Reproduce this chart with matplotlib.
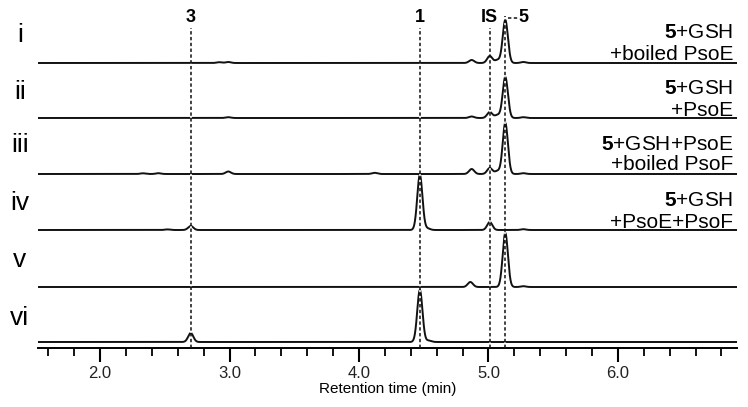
import numpy as np
import matplotlib
matplotlib.use('Agg')
import matplotlib.pyplot as plt

plt.rcParams['font.family'] = 'Liberation Sans'
plt.rcParams['mathtext.fontset'] = 'custom'
plt.rcParams['mathtext.rm'] = 'Liberation Sans'
plt.rcParams['mathtext.bf'] = 'Liberation Sans:bold'

# peak tables: (retention time in min, height in px)
peaks_i = [(2.92, 0.8), (2.99, 1.0), (4.87, 3), (5.01, 7), (5.07, 3), (5.13, 43), (5.27, 1)]
peaks_ii = [(2.99, 0.8), (4.87, 1.5), (5.01, 6), (5.07, 3), (5.13, 41), (5.27, 0.8)]
peaks_iii = [(2.33, 0.7), (2.45, 0.8), (2.99, 2.5), (4.12, 1.2), (4.87, 5), (5.01, 6), (5.07, 3), (5.13, 51), (5.27, 0.8)]
peaks_iv = [(2.52, 0.6), (2.70, 4), (4.47, 55), (4.53, 1.5), (5.01, 8), (5.27, 0.8)]
peaks_v = [(4.86, 5), (5.13, 54), (5.27, 0.8)]
peaks_vi = [(2.70, 9), (4.47, 52), (4.54, 1.5)]

traces = [peaks_i, peaks_ii, peaks_iii, peaks_iv, peaks_v, peaks_vi]
baselines = [285, 230, 174, 118, 61, 6]
row_names = ['i', 'ii', 'iii', 'iv', 'v', 'vi']
row_label_y = [313, 256, 203, 145, 88, 30]

conditions = [
    ['$\\mathbf{5}$+GSH', '+boiled PsoE'],
    ['$\\mathbf{5}$+GSH', '+PsoE'],
    ['$\\mathbf{5}$+GSH+PsoE', '+boiled PsoF'],
    ['$\\mathbf{5}$+GSH', '+PsoE+PsoF'],
]
cond_y = [(315, 294), (260, 238), (203, 183), (148, 126)]

marker_names = ['3', '1', 'IS']
marker_rt = [2.70, 4.47, 5.01]
rt_5 = 5.13

xmin, xmax = 1.52, 6.92
t = np.linspace(xmin, xmax, 4000)
dash = (0, (2.2, 1.6))

fig = plt.figure(figsize=(7.48, 4.07), dpi=100)
ax = fig.add_axes([38 / 748, 59 / 407, 699 / 748, 348 / 407])
ax.set_xlim(xmin, xmax)
ax.set_ylim(0, 348)

for pk, base in zip(traces, baselines):
    y = np.full_like(t, float(base))
    for rt, h in pk:
        s = 0.02
        y += h * np.exp(-0.5 * ((t - rt) / s) ** 2)
    ax.plot(t, y, color='#111111', lw=1.4, zorder=2)

# dashed marker lines
for name, rt in zip(marker_names, marker_rt):
    ax.plot([rt, rt], [0, 320], color='#111111', lw=1.1, ls=dash,
            gapcolor='white', zorder=3)
    ax.text(rt, 330, name, ha='center', va='center', fontsize=13,
            fontweight='bold')
ax.plot([rt_5, rt_5], [0, 332], color='#111111', lw=1.1, ls=dash,
        gapcolor='white', zorder=3)
ax.plot([rt_5 + 0.02, rt_5 + 0.1], [330, 330], color='#111111', lw=1.1,
        ls=dash, zorder=3)
ax.text(5.27, 330, '5', ha='center', va='center', fontsize=13,
        fontweight='bold')

for name, ly in zip(row_names, row_label_y):
    ax.text(1.38, ly, name, ha='center', va='center', fontsize=19,
            clip_on=False)

for lines, (y1, y2) in zip(conditions, cond_y):
    ax.text(6.89, y1, lines[0], ha='right', va='center', fontsize=15)
    ax.text(6.89, y2, lines[1], ha='right', va='center', fontsize=15)

for side in ['left', 'right', 'top']:
    ax.spines[side].set_visible(False)
ax.spines['bottom'].set_linewidth(1.4)
ax.set_yticks([])
ax.set_xticks([2, 3, 4, 5, 6])
ax.set_xticklabels(['2.0', '3.0', '4.0', '5.0', '6.0'], fontsize=12,
                   color='#222222')
ax.set_xticks(np.arange(1.6, 6.9, 0.2), minor=True)
ax.tick_params(axis='x', which='major', direction='out', length=10, width=1.5, pad=3)
ax.tick_params(axis='x', which='minor', direction='out', length=6, width=1.3)
ax.set_xlabel('Retention time (min)', fontsize=11, labelpad=1)

fig.savefig('out.png', dpi=100)
